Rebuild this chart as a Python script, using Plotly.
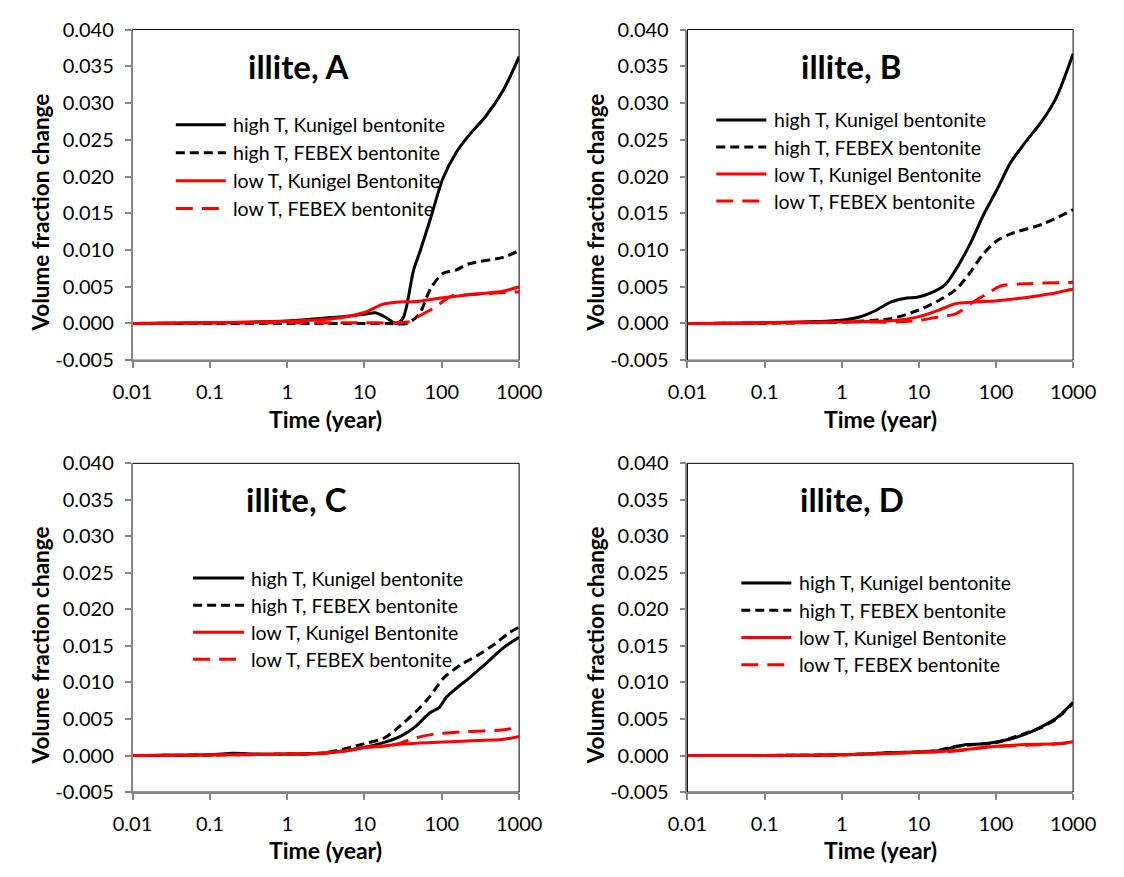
import plotly.graph_objects as go

# ---------------- data: time (year) and illite volume fraction change ----------------
panel_names = ["illite, A", "illite, B", "illite, C", "illite, D"]
series_names = [
    "high T, Kunigel bentonite",
    "high T, FEBEX bentonite",
    "low T, Kunigel Bentonite",
    "low T, FEBEX bentonite",
]

# Panel A
A_hk_t = [0.01, 0.1, 1.0, 3.6, 10, 13.8, 19, 25.8, 31.7, 43, 52.6, 72, 103, 154, 220, 370, 620, 1000]
A_hk_v = [0, 0.0001, 0.00035, 0.0008, 0.00124, 0.00146, 0.0008, 0.0, 0.0008, 0.0072, 0.0099,
          0.0144, 0.0197, 0.0233, 0.0255, 0.0282, 0.0317, 0.0363]
A_hf_t = [0.01, 1, 10, 20, 35, 45, 52.6, 72, 103, 154, 220, 620, 1000]
A_hf_v = [0, 0.0, 0.0, 0.0, 0.0, 0.0007, 0.0015, 0.0048, 0.0068, 0.0073, 0.0081, 0.0090, 0.0099]
A_lk_t = [0.01, 0.1, 1, 3.6, 10, 17, 25.8, 47, 103, 220, 620, 1000]
A_lk_v = [0, 0.0001, 0.0003, 0.0006, 0.0015, 0.0026, 0.0029, 0.0030, 0.0035, 0.0039, 0.0044, 0.0050]
A_lf_t = [0.01, 1, 10, 25, 40, 47, 79, 132, 220, 620, 1000]
A_lf_v = [0, 0.0001, 0.0001, 0.0001, 0.0003, 0.0008, 0.0021, 0.0037, 0.0039, 0.0042, 0.0043]

# Panel B
B_hk_t = [0.01, 0.1, 1, 1.7, 2.8, 4.3, 6.5, 9.8, 14.6, 22, 30, 46, 69, 104, 155, 234, 398, 603, 1000]
B_hk_v = [0, 0.0001, 0.00044, 0.00088, 0.0018, 0.0029, 0.0034, 0.0036, 0.0042, 0.0053, 0.0073,
          0.0108, 0.0148, 0.0183, 0.0219, 0.0245, 0.0276, 0.0307, 0.0367]
B_hf_t = [0.01, 1, 4.3, 9.8, 18, 30, 46, 69, 104, 155, 398, 1000]
B_hf_v = [0, 0.0002, 0.00066, 0.0018, 0.0031, 0.0046, 0.0069, 0.0095, 0.0113, 0.0122, 0.0135, 0.0155]
B_lk_t = [0.01, 1, 5.2, 9.8, 18, 30, 50, 104, 234, 490, 1000]
B_lk_v = [0, 0.0002, 0.00044, 0.0009, 0.0018, 0.0027, 0.0029, 0.0031, 0.0035, 0.0040, 0.0047]
B_lf_t = [0.01, 1, 5.2, 9.8, 18, 30, 50, 76, 115, 234, 1000]
B_lf_v = [0, 0.0002, 0.0002, 0.0004, 0.0009, 0.0013, 0.0029, 0.0040, 0.0051, 0.0054, 0.0056]

# Panel C
C_hk_t = [0.01, 0.1, 0.2, 0.4, 1, 3.2, 9.8, 18, 30, 46, 69, 93, 115, 158, 214, 355, 600, 740, 1000]
C_hk_v = [0, 0.0001, 0.0003, 0.0002, 0.0002, 0.00035, 0.0011, 0.0018, 0.0027, 0.0040, 0.0058,
          0.0066, 0.0080, 0.0093, 0.0104, 0.0124, 0.0146, 0.0153, 0.0162]
C_hf_t = [0.01, 1, 3.2, 9.8, 18, 27, 46, 69, 105, 174, 288, 490, 741, 1000]
C_hf_v = [0, 0.0002, 0.0004, 0.0016, 0.0024, 0.0038, 0.0060, 0.0080, 0.0106, 0.0124, 0.0137,
          0.0153, 0.0168, 0.0176]
C_lk_t = [0.01, 1, 3.2, 5.9, 9.8, 18, 33, 76, 214, 603, 1000]
C_lk_v = [0, 0.0002, 0.00035, 0.00066, 0.0011, 0.0013, 0.0016, 0.0018, 0.0020, 0.0022, 0.0026]
C_lf_t = [0.01, 1, 3.2, 5.9, 9.8, 18, 27, 42, 76, 214, 603, 1000]
C_lf_v = [0, 0.0002, 0.00035, 0.00066, 0.0011, 0.0013, 0.0016, 0.0023, 0.0029, 0.0033, 0.0035, 0.0039]

# Panel D
D_hk_t = [0.01, 1, 3.5, 9.8, 18, 27.5, 42, 69, 105, 158, 263, 398, 603, 1000]
D_hk_v = [0, 0.0001, 0.00035, 0.0005, 0.00066, 0.0011, 0.0015, 0.0016, 0.0019, 0.0023, 0.0031,
          0.0040, 0.0051, 0.0073]
D_hf_t = [0.01, 1, 3.5, 9.8, 18, 27.5, 42, 69, 105, 158, 263, 398, 603, 1000]
D_hf_v = [0, 0.0001, 0.00035, 0.0005, 0.0007, 0.0012, 0.0014, 0.0016, 0.0018, 0.0024, 0.0032,
          0.0039, 0.0050, 0.0072]
D_lk_t = [0.01, 1, 9.8, 27.5, 85, 240, 600, 1000]
D_lk_v = [0, 0.0001, 0.00044, 0.00066, 0.0012, 0.0015, 0.0016, 0.0019]
D_lf_t = [0.01, 1, 9.8, 27.5, 85, 240, 600, 1000]
D_lf_v = [0, 0.0001, 0.00044, 0.0006, 0.0012, 0.0014, 0.0016, 0.0018]

x_tick_vals = [0.01, 0.1, 1, 10, 100, 1000]
x_tick_text = ["0.01", "0.1", "1", "10", "100", "1000"]
y_tick_vals = [-0.005, 0.0, 0.005, 0.010, 0.015, 0.020, 0.025, 0.030, 0.035, 0.040]
y_tick_text = ["-0.005", "0.000", "0.005", "0.010", "0.015", "0.020", "0.025", "0.030", "0.035", "0.040"]

panels = [
    [(A_hk_t, A_hk_v), (A_hf_t, A_hf_v), (A_lk_t, A_lk_v), (A_lf_t, A_lf_v)],
    [(B_hk_t, B_hk_v), (B_hf_t, B_hf_v), (B_lk_t, B_lk_v), (B_lf_t, B_lf_v)],
    [(C_hk_t, C_hk_v), (C_hf_t, C_hf_v), (C_lk_t, C_lk_v), (C_lf_t, C_lf_v)],
    [(D_hk_t, D_hk_v), (D_hf_t, D_hf_v), (D_lk_t, D_lk_v), (D_lf_t, D_lf_v)],
]

# ---------------- styling ----------------
W, H = 1124, 877
FONT = "Lato"
AXIS_GRAY = "#868686"
line_styles = [
    dict(color="#000000", width=3, dash="solid"),
    dict(color="#000000", width=3, dash="9px,5px"),
    dict(color="#ff0000", width=3, dash="solid"),
    dict(color="#ff0000", width=3, dash="17px,9px"),
]

# plot-area boxes in pixels: (left, right, top, bottom)
boxes = [
    (117, 519, 17, 357),
    (694, 1095, 17, 357),
    (117, 519, 463, 801),
    (694, 1095, 463, 801),
]
# key layout in pixels: (sample start, sample end, text start, first row y, row step)
legend_pos = [
    (162, 214, 219, 115, 28.7),
    (724, 776, 782, 110, 27.8),
    (180, 233, 238, 581, 27.8),
    (750, 802, 808, 586, 28.0),
]
# panel title centre in pixels
title_pos = [(290, 55), (864, 55), (288, 500), (865, 500)]


def px_x(p):
    return p / W


def px_y(p):
    return 1 - p / H


fig = go.Figure()
layout = dict(
    width=W, height=H,
    margin=dict(l=0, r=0, t=0, b=0),
    paper_bgcolor="white", plot_bgcolor="white",
    showlegend=False,
    font=dict(family=FONT, color="#000000", size=20),
)
shapes = []
annotations = []

for i, (series, box) in enumerate(zip(panels, boxes)):
    n = i + 1
    xa = "x" if n == 1 else f"x{n}"
    ya = "y" if n == 1 else f"y{n}"
    left, right, top, bottom = box

    for (t, v), name, st in zip(series, series_names, line_styles):
        fig.add_trace(go.Scatter(
            x=t, y=v, mode="lines", name=name, xaxis=xa, yaxis=ya,
            line=dict(color=st["color"], width=st["width"], dash=st["dash"],
                      shape="spline", smoothing=0.8),
            showlegend=False,
        ))

    layout["xaxis" if n == 1 else f"xaxis{n}"] = dict(
        domain=[px_x(left), px_x(right)], anchor=ya, type="log", range=[-2, 3],
        tickvals=x_tick_vals, ticktext=x_tick_text,
        showgrid=False, zeroline=False, showline=True, linecolor=AXIS_GRAY, linewidth=1.5,
        ticks="outside", ticklen=6, tickwidth=1.5, tickcolor=AXIS_GRAY,
        tickfont=dict(family=FONT, size=20, color="#000000"), ticklabelstandoff=7,
    )
    layout["yaxis" if n == 1 else f"yaxis{n}"] = dict(
        domain=[px_y(bottom), px_y(top)], anchor=xa, range=[-0.005, 0.040],
        tickvals=y_tick_vals, ticktext=y_tick_text,
        showgrid=False, zeroline=False, showline=True, linecolor=AXIS_GRAY, linewidth=1.5,
        ticks="outside", ticklen=6, tickwidth=1.5, tickcolor=AXIS_GRAY,
        tickfont=dict(family=FONT, size=20, color="#000000"), ticklabelstandoff=7,
    )

    # thin frame around the plot area
    shapes.append(dict(type="rect", xref=f"{xa} domain", yref=f"{ya} domain",
                       x0=0, x1=1, y0=0, y1=1, layer="below",
                       line=dict(color="#000000", width=1)))

    # panel title
    tx, ty = title_pos[i]
    annotations.append(dict(text="<b>" + panel_names[i] + "</b>", xref="paper", yref="paper",
                            x=px_x(tx), y=px_y(ty), xanchor="center", yanchor="middle",
                            showarrow=False, font=dict(family=FONT, size=33, color="#000000")))

    # axis titles
    annotations.append(dict(text="<b>Time (year)</b>", xref="paper", yref="paper",
                            x=px_x((left + right) / 2), y=px_y(bottom + 60),
                            xanchor="center", yanchor="middle", showarrow=False,
                            font=dict(family=FONT, size=23, color="#000000")))
    annotations.append(dict(text="<b>Volume fraction change</b>", xref="paper", yref="paper",
                            x=px_x(left - 96), y=px_y((top + bottom) / 2 + 18),
                            xanchor="center", yanchor="middle", textangle=-90, showarrow=False,
                            font=dict(family=FONT, size=22.5, color="#000000")))

    # in-plot key
    s0, s1, tx0, ry, step = legend_pos[i]
    for k, (name, st) in enumerate(zip(series_names, line_styles)):
        yy = ry + k * step
        shapes.append(dict(type="line", xref="paper", yref="paper",
                           x0=px_x(s0), x1=px_x(s1), y0=px_y(yy), y1=px_y(yy),
                           line=dict(color=st["color"], width=st["width"], dash=st["dash"])))
        annotations.append(dict(text=name, xref="paper", yref="paper",
                                x=px_x(tx0), y=px_y(yy), xanchor="left", yanchor="middle",
                                showarrow=False, font=dict(family=FONT, size=19.5, color="#000000")))

layout["shapes"] = shapes
layout["annotations"] = annotations
fig.update_layout(**layout)
fig.write_html("out.html")
